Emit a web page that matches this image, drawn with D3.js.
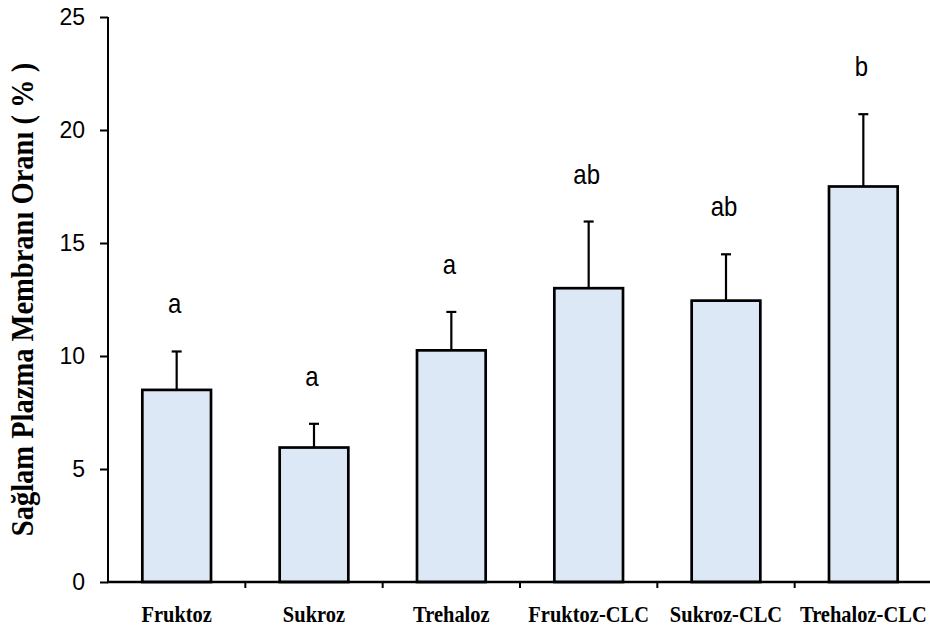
<!DOCTYPE html>
<html>
<head>
<meta charset="utf-8">
<script src="https://cdn.jsdelivr.net/npm/d3@7"></script>
<style>
  body { margin: 0; background: #fff; }
</style>
</head>
<body>
<svg id="chart" width="930" height="632"></svg>
<script>
// chart data
const categories = ["Fruktoz", "Sukroz", "Trehaloz", "Fruktoz-CLC", "Sukroz-CLC", "Trehaloz-CLC"];
const means = [8.5, 5.95, 10.25, 13.0, 12.45, 17.5];
const errors = [1.7, 1.05, 1.7, 2.95, 2.05, 3.2];
const letters = ["a", "a", "a", "ab", "ab", "b"];
const yTicks = [0, 5, 10, 15, 20, 25];
const yLabel = "Sağlam Plazma Membranı Oranı ( % )";

const data = categories.map((c, i) => ({name: c, mean: means[i], err: errors[i], letter: letters[i]}));

const svg = d3.select("#chart");
const margin = {top: 17, right: -2, bottom: 50, left: 108};
const width = 930, height = 632;

const x = d3.scaleBand()
    .domain(categories)
    .range([margin.left, width - margin.right])
    .paddingInner(0.5)
    .paddingOuter(0.25);

const y = d3.scaleLinear()
    .domain([0, 25])
    .range([height - margin.bottom, margin.top]);

// bars
svg.append("g")
    .selectAll("rect")
    .data(data)
    .join("rect")
        .attr("x", d => x(d.name))
        .attr("y", d => y(d.mean))
        .attr("width", x.bandwidth())
        .attr("height", d => y(0) - y(d.mean))
        .attr("fill", "#dce8f5")
        .attr("stroke", "#000")
        .attr("stroke-width", 2.7);

// error bars (upper only)
const eb = svg.append("g").attr("stroke", "#000").attr("stroke-width", 2.2);
eb.selectAll("line.v")
    .data(data)
    .join("line")
        .attr("class", "v")
        .attr("x1", d => x(d.name) + x.bandwidth() / 2)
        .attr("x2", d => x(d.name) + x.bandwidth() / 2)
        .attr("y1", d => y(d.mean))
        .attr("y2", d => y(d.mean + d.err));
eb.selectAll("line.cap")
    .data(data)
    .join("line")
        .attr("class", "cap")
        .attr("x1", d => x(d.name) + x.bandwidth() / 2 - 5)
        .attr("x2", d => x(d.name) + x.bandwidth() / 2 + 5)
        .attr("y1", d => y(d.mean + d.err))
        .attr("y2", d => y(d.mean + d.err));

// significance letters (slightly tall, like the original)
svg.append("g")
    .attr("text-anchor", "middle")
    .style("font", "24px 'Liberation Sans', Arial, sans-serif")
    .selectAll("text")
    .data(data)
    .join("text")
        .attr("transform", d => `translate(${x(d.name) + x.bandwidth() / 2 - 2},${y(d.mean + d.err) - 38}) scale(1,1.12)`)
        .text(d => d.letter);

// y axis
const yAxis = svg.append("g")
    .attr("transform", `translate(${margin.left},0)`)
    .call(d3.axisLeft(y).tickValues(yTicks).tickSize(8).tickPadding(15).tickSizeOuter(0));
yAxis.select(".domain").attr("stroke-width", 2).attr("d", `M0,${y(25)}V${y(0) + 1}`);
yAxis.selectAll(".tick line").attr("stroke-width", 2);
yAxis.selectAll(".tick text")
    .style("font", "23px 'Liberation Sans', Arial, sans-serif")
    .attr("fill", "#000");

// x axis with ticks between categories
const xAxisG = svg.append("g")
    .attr("transform", `translate(0,${y(0)})`);
xAxisG.append("line")
    .attr("x1", margin.left - 1)
    .attr("x2", width)
    .attr("stroke", "#000")
    .attr("stroke-width", 2.5);
xAxisG.selectAll("line.sep")
    .data(categories.slice(1))
    .join("line")
        .attr("class", "sep")
        .attr("x1", d => x(d) - x.step() * x.paddingInner() / 2)
        .attr("x2", d => x(d) - x.step() * x.paddingInner() / 2)
        .attr("y1", 0)
        .attr("y2", 6)
        .attr("stroke", "#000")
        .attr("stroke-width", 2);
xAxisG.selectAll("text")
    .data(categories)
    .join("text")
        .attr("transform", d => `translate(${x(d) + x.bandwidth() / 2},40) scale(1,1.12)`)
        .attr("text-anchor", "middle")
        .style("font", "bold 20.5px 'Liberation Serif', 'Times New Roman', serif")
        .text(d => d);

// y axis title
svg.append("text")
    .attr("transform", `translate(33,${(60 + 539) / 2}) rotate(-90) scale(0.92,1)`)
    .attr("text-anchor", "middle")
    .style("font", "bold 31px 'Liberation Serif', 'Times New Roman', serif")
    .text(yLabel);
</script>
</body>
</html>
